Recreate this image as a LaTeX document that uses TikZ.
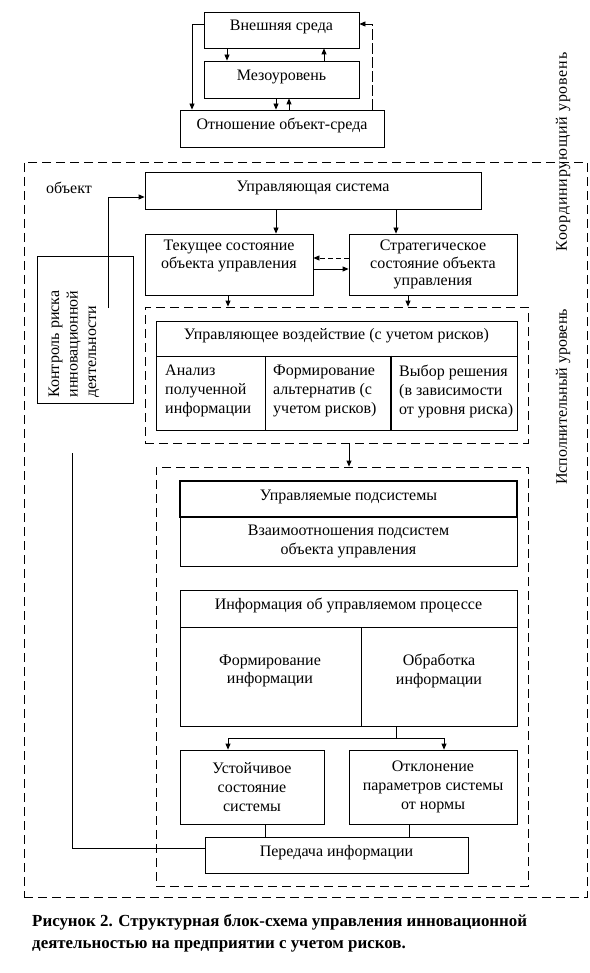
\documentclass[tikz,border=0pt]{standalone}
\usepackage{fontspec}
\setmainfont{Liberation Serif}
\usetikzlibrary{arrows.meta}
\begin{document}
\begin{tikzpicture}[x=1pt,y=-1pt,
  every node/.style={font=\fontsize{16}{18.5}\selectfont},
  corners/.style n args={4}{minimum width={(#3-#1)*1pt}, minimum height={(#4-#2)*1pt}, at={({(#1+#3)/2},{(#2+#4)/2})}},
  box/.style={draw, line width=0.8pt, inner sep=0pt, align=center},
  oneline/.style={text height=10pt, text depth=8pt},
  dbox/.style={draw, line width=0.8pt, inner sep=0pt, dash pattern=on 9pt off 5pt},
  txt/.style={inner sep=0pt, align=center},
  ltxt/.style={inner sep=0pt, align=left, anchor=west},
  ln/.style={line width=0.8pt},
  arr/.style={line width=0.8pt, -{Triangle[length=6pt,width=5pt]}},
  longdash/.style={dash pattern=on 11pt off 3pt},
  shortdash/.style={dash pattern=on 5pt off 3pt}
]
\useasboundingbox (0,0) rectangle (589,973);

% top level
\node[box, oneline, corners={204}{12}{359}{48}] (ext) {Внешняя среда};
\node[box, oneline, corners={204}{61}{359}{98}] (meso) {Мезоуровень};
\node[box, oneline, corners={180}{110}{384}{147}] (rel) {Отношение объект-среда};

\draw[arr] (ext.south -| 227,0) -- (meso.north -| 227,0);
\draw[arr] (meso.north -| 324,0) -- (ext.south -| 324,0);
\draw[arr] (meso.south -| 276,0) -- (rel.north -| 276,0);
\draw[arr] (rel.north -| 289,0) -- (meso.south -| 289,0);
\draw[arr] (ext.west |- 0,24) -| (rel.north -| 192,0);
\draw[arr, longdash] (rel.north -| 372,0) |- (ext.east |- 0,24);

% outer dashed region
\node[dbox, corners={24}{162}{587}{897}] (outer) {};
\node[txt] (obj) at (69,188) {объект};
\node[txt, rotate=90] (coordlvl) at (563,152) {\addfontfeature{LetterSpace=5}Координирующий уровень};
\node[txt, rotate=90] (execlvl) at (563,397) {Исполнительный уровень};

\node[box, oneline, corners={145}{172}{481}{209}] (ctrl) {Управляющая система};
\node[box, corners={145}{234}{313}{295}] (cur) {};
\node[txt] (curt) at (229,256) {Текущее состояние\\объекта управления};
\node[box, corners={349}{234}{517}{295}, font=\fontsize{16}{17.5}\selectfont] (strat) {Стратегическое\\состояние объекта\\управления};

\node[box, corners={37}{256}{133}{403}] (risk) {};
\node[txt, rotate=90, align=left] (riskt) at (74,344) {Контроль риска\\инновационной\\деятельности};
\coordinate (rk) at (108,308);

\draw[arr] (rk) |- (ctrl.west |- 0,197);
\draw[arr] (ctrl.south -| 276,0) -- (cur.north -| 276,0);
\draw[arr] (ctrl.south -| 396,0) -- (strat.north -| 396,0);
\draw[arr, shortdash] (strat.west |- 0,258) -- (cur.east |- 0,258);
\draw[arr] (cur.east |- 0,269) -- (strat.west |- 0,269);

% first inner dashed region
\node[dbox, corners={145}{307}{528}{443}] (d1) {};
\draw[arr] (cur.south -| 228,0) -- (d1.north -| 228,0);
\draw[arr] (strat.south -| 408,0) -- (d1.north -| 408,0);

\node[box, oneline, corners={156}{321}{517}{356}] (th) {Управляющее воздействие (с учетом рисков)};
\node[box, corners={156}{356}{265}{430}] (tc1) {};
\node[box, corners={265}{356}{391}{430}] (tc2) {};
\node[box, corners={391}{356}{517}{430}] (tc3) {};
\draw[line width=1.8pt] (tc3.north west) -- (tc3.south west);
\node[ltxt, font=\fontsize{16}{19}\selectfont] (tc1t) at (165,391) {Анализ\\полученной\\информации};
\node[ltxt, font=\fontsize{16}{19}\selectfont] (tc2t) at (273,391) {Формирование\\альтернатив (с\\учетом рисков)};
\node[ltxt, font=\fontsize{16}{19}\selectfont] (tc3t) at (399,391) {Выбор решения\\(в зависимости\\от уровня риска)};

% second inner dashed region
\node[dbox, corners={156}{467}{528}{886}] (d2) {};
\draw[arr] (d1.south -| 349,0) -- (d2.north -| 349,0);

\node[box, corners={180}{517}{517}{566}] (rel2) {Взаимоотношения подсистем\\объекта управления};
\node[box, oneline, line width=2.6pt, corners={180}{481}{517}{517}] (sub) {Управляемые подсистемы};

\node[box, oneline, corners={180}{590}{517}{627}] (ih) {Информация об управляемом процессе};
\node[box, corners={180}{627}{361}{726}] (ic1) {};
\node[box, corners={361}{627}{517}{726}] (ic2) {};
\node[txt] (ic1t) at (270,671) {Формирование\\информации};
\node[txt] (ic2t) at (439,671) {Обработка\\информации};

\node[box, corners={180}{750}{324}{824}, font=\fontsize{16}{19}\selectfont] (stable) {Устойчивое\\состояние\\системы};
\node[box, corners={349}{750}{517}{824}, font=\fontsize{16}{19}\selectfont] (dev) {Отклонение\\параметров системы\\от нормы};

\coordinate (br) at (396,738);
\draw[ln] (ic2.south -| br) -- (br);
\draw[arr] (br) -| (stable.north -| 228,0);
\draw[arr] (br) -| (dev.north -| 444,0);

\node[box, oneline, corners={205}{837}{468}{873}] (trans) {Передача информации};
\draw[ln] (stable.south -| 265,0) -- (trans.north -| 265,0);
\draw[ln] (dev.south -| 409,0) -- (trans.north -| 409,0);

\coordinate (fb) at (72,453);
\draw[ln] (trans.west |- 0,848) -| (fb);

% caption
\node[anchor=north west, align=left, inner sep=0pt,
      font=\bfseries\fontsize{16.9}{22}\selectfont] (cap) at (32,914)
  {Рисунок 2. Структурная блок-схема управления инновационной\\деятельностью на предприятии с учетом рисков.};
\end{tikzpicture}
\end{document}
